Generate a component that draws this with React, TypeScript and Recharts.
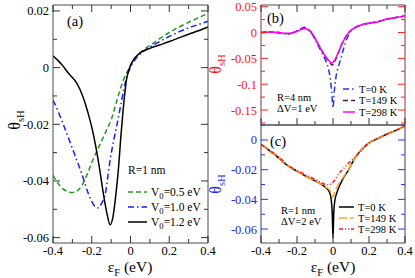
import React from "react";
import { LineChart, Line, XAxis, YAxis } from "recharts";

const W = 415;
const H = 278;
const FONT = "Liberation Serif, DejaVu Serif, serif";

// ---- panel (a): R = 1 nm, three barrier heights V0
const aX05 = [-0.4, -0.35, -0.3, -0.27, -0.25, -0.22, -0.2, -0.15, -0.12, -0.1, -0.07, -0.04, -0.02, 0, 0.02, 0.05, 0.1, 0.15, 0.2, 0.25, 0.3, 0.35, 0.4];
const aY05 = [-0.038, -0.0427, -0.0441, -0.0432, -0.0415, -0.037, -0.0335, -0.026, -0.0215, -0.0185, -0.0115, -0.005, -0.0018, 0.0005, 0.0028, 0.0052, 0.0078, 0.0102, 0.0124, 0.0143, 0.016, 0.0176, 0.0191];

const aX10 = [-0.4, -0.37, -0.35, -0.3, -0.25, -0.22, -0.2, -0.18, -0.165, -0.15, -0.13, -0.106, -0.08, -0.065, -0.046, -0.024, -0.01, 0, 0.02, 0.05, 0.1, 0.15, 0.2, 0.25, 0.3, 0.35, 0.4];
const aY10 = [-0.0115, -0.016, -0.0195, -0.0285, -0.0378, -0.044, -0.0472, -0.0492, -0.0495, -0.048, -0.0445, -0.033, -0.0234, -0.0185, -0.0117, -0.0046, -0.0015, 0.0002, 0.0025, 0.0048, 0.0072, 0.0092, 0.011, 0.0126, 0.014, 0.0152, 0.0164];

const aX12 = [-0.4, -0.37, -0.35, -0.32, -0.3, -0.28, -0.26, -0.24, -0.22, -0.2, -0.18, -0.16, -0.14, -0.12, -0.105, -0.09, -0.075, -0.062, -0.05, -0.04, -0.03, -0.02, -0.01, 0, 0.02, 0.05, 0.1, 0.15, 0.2, 0.25, 0.3, 0.35, 0.4];
const aY12 = [0.0042, 0.0022, 0.0007, -0.002, -0.0035, -0.0052, -0.0078, -0.0113, -0.0158, -0.021, -0.0275, -0.0355, -0.0445, -0.052, -0.0555, -0.0525, -0.0445, -0.0355, -0.0245, -0.0165, -0.0095, -0.004, -0.0012, 0.0008, 0.0032, 0.0052, 0.0068, 0.008, 0.0092, 0.0105, 0.0118, 0.013, 0.0144];

// ---- panel (b): R = 4 nm, dV = 1 eV, temperatures
const bX0 = [-0.4, -0.35, -0.3, -0.25, -0.22, -0.19, -0.16, -0.14, -0.12, -0.1, -0.08, -0.06, -0.04, -0.025, -0.015, -0.007, 0, 0.007, 0.015, 0.025, 0.04, 0.06, 0.08, 0.1, 0.12, 0.16, 0.2, 0.25, 0.3, 0.35, 0.4];
const bY0 = [0.0, 0.001, -0.001, -0.003, 0.0, 0.005, 0.01, 0.006, -0.001, -0.013, -0.027, -0.04, -0.055, -0.07, -0.09, -0.115, -0.146, -0.115, -0.09, -0.072, -0.055, -0.03, -0.01, 0.003, 0.009, 0.015, 0.018, 0.021, 0.026, 0.029, 0.032];

const bX149 = [-0.4, -0.35, -0.3, -0.25, -0.22, -0.19, -0.16, -0.14, -0.12, -0.1, -0.08, -0.06, -0.04, -0.02, -0.005, 0.01, 0.03, 0.05, 0.07, 0.09, 0.12, 0.16, 0.2, 0.25, 0.3, 0.35, 0.4];
const bY149 = [0.0, 0.001, 0.0, -0.002, 0.0, 0.004, 0.008, 0.006, 0.0, -0.011, -0.024, -0.036, -0.048, -0.057, -0.063, -0.056, -0.039, -0.022, -0.009, 0.001, 0.009, 0.015, 0.018, 0.021, 0.026, 0.029, 0.032];

const bX298 = [-0.4, -0.35, -0.3, -0.25, -0.22, -0.19, -0.16, -0.14, -0.12, -0.1, -0.08, -0.06, -0.04, -0.02, -0.005, 0.01, 0.03, 0.05, 0.07, 0.09, 0.12, 0.16, 0.2, 0.25, 0.3, 0.35, 0.4];
const bY298 = [0.0, 0.001, 0.0, -0.002, 0.0, 0.004, 0.008, 0.006, 0.0, -0.011, -0.024, -0.036, -0.047, -0.055, -0.059, -0.053, -0.038, -0.022, -0.009, 0.001, 0.009, 0.015, 0.018, 0.021, 0.026, 0.029, 0.032];

// ---- panel (c): R = 1 nm, dV = 2 eV, temperatures
const cX0 = [-0.4, -0.37, -0.34, -0.32, -0.3, -0.25, -0.2, -0.15, -0.1, -0.07, -0.04, -0.02, -0.01, -0.004, 0, 0.004, 0.01, 0.02, 0.04, 0.06, 0.08, 0.1, 0.12, 0.15, 0.18, 0.2, 0.25, 0.3, 0.35, 0.4];
const cY0 = [-0.003, -0.0055, -0.0085, -0.0102, -0.0125, -0.0175, -0.021, -0.0245, -0.0275, -0.0295, -0.032, -0.035, -0.04, -0.05, -0.066, -0.05, -0.041, -0.036, -0.03, -0.025, -0.0215, -0.017, -0.0125, -0.0075, -0.004, -0.002, 0.001, 0.004, 0.0065, 0.0095];

const cX149 = [-0.4, -0.37, -0.34, -0.32, -0.3, -0.25, -0.2, -0.15, -0.1, -0.07, -0.04, -0.02, -0.01, 0, 0.01, 0.02, 0.04, 0.06, 0.08, 0.1, 0.12, 0.15, 0.18, 0.2, 0.25, 0.3, 0.35, 0.4];
const cY149 = [-0.003, -0.0055, -0.0085, -0.0102, -0.0125, -0.0175, -0.021, -0.0245, -0.0275, -0.0295, -0.0318, -0.0335, -0.0355, -0.0385, -0.035, -0.032, -0.028, -0.0245, -0.021, -0.0168, -0.0125, -0.0075, -0.004, -0.002, 0.001, 0.004, 0.0065, 0.0095];

const cX298 = [-0.4, -0.35, -0.3, -0.25, -0.2, -0.15, -0.1, -0.06, -0.03, -0.01, 0.01, 0.03, 0.057, 0.08, 0.1, 0.13, 0.16, 0.2, 0.25, 0.3, 0.35, 0.4];
const cY298 = [-0.003, -0.007, -0.0115, -0.017, -0.0205, -0.0235, -0.0265, -0.029, -0.0302, -0.0295, -0.027, -0.023, -0.0195, -0.0165, -0.014, -0.0105, -0.007, -0.002, 0.0012, 0.004, 0.0066, 0.0095];

// ---- ticks
const xTicks = [-0.4, -0.3, -0.2, -0.1, 0, 0.1, 0.2, 0.3, 0.4];
const xLabels = [-0.4, -0.2, 0, 0.2, 0.4];
const aYTicks = [-0.06, -0.05, -0.04, -0.03, -0.02, -0.01, 0, 0.01, 0.02];
const aYLabels = [-0.06, -0.04, -0.02, 0, 0.02];
const bYTicks = [-0.175, -0.15, -0.125, -0.1, -0.075, -0.05, -0.025, 0, 0.025, 0.05];
const bYLabels = [-0.15, -0.1, -0.05, 0, 0.05];
const cYTicks = [-0.06, -0.05, -0.04, -0.03, -0.02, -0.01, 0, 0.01];
const cYLabels = [-0.06, -0.04, -0.02, 0];

type Series = {
  label: string;
  sub?: string;
  rest?: string;
  xs: number[];
  ys: number[];
  color: string;
  dash?: string;
  width?: number;
};

const seriesA: Series[] = [
  { label: "V", sub: "0", rest: "=0.5 eV", xs: aX05, ys: aY05, color: "#1f9a1f", dash: "5 3" },
  { label: "V", sub: "0", rest: "=1.0 eV", xs: aX10, ys: aY10, color: "#1a1aff", dash: "6 3 1.5 3" },
  { label: "V", sub: "0", rest: "=1.2 eV", xs: aX12, ys: aY12, color: "#000000" },
];

const seriesB: Series[] = [
  { label: "T=0 K", xs: bX0, ys: bY0, color: "#2233ee", dash: "6 3 1.5 3" },
  { label: "T=149 K", xs: bX149, ys: bY149, color: "#5c1030", dash: "5 3" },
  { label: "T=298 K", xs: bX298, ys: bY298, color: "#ff00ff" },
];

const seriesC: Series[] = [
  { label: "T=0 K", xs: cX0, ys: cY0, color: "#000000" },
  { label: "T=149 K", xs: cX149, ys: cY149, color: "#ffaa22", dash: "8 3" },
  { label: "T=298 K", xs: cX298, ys: cY298, color: "#ff1a1a", dash: "4 2 1 2 1 2" },
];

const zip = (xs: number[], ys: number[]) => xs.map((x, i) => ({ x, y: ys[i] }));
const isIn = (v: number, arr: number[]) => arr.some((a) => Math.abs(a - v) < 1e-9);

type PanelProps = {
  left: number;
  right: number;
  top: number;
  bottom: number;
  yDomain: [number, number];
  yTicks: number[];
  yLabels: number[];
  showXLabels: boolean;
  topTicks: boolean;
  yColor: string;
  yLabelColor: string;
  frameV: string;
  series: Series[];
};

function Panel(p: PanelProps) {
  const major = 7;
  const minor = 4;
  const frameH = "#4d4d4d";

  const bottomTick = (t: any) => {
    const v = t.payload.value;
    const len = isIn(v, xLabels) ? major : minor;
    return (
      <g>
        <line x1={t.x} x2={t.x} y1={p.bottom} y2={p.bottom - len} stroke="#333" />
        {p.showXLabels && isIn(v, xLabels) ? (
          <text x={t.x} y={p.bottom + 11.5} textAnchor="middle" fontSize={12.5} style={{ fontFamily: FONT }} fill="#000">
            {String(v)}
          </text>
        ) : null}
      </g>
    );
  };
  const topTick = (t: any) => {
    if (!p.topTicks) return <g />;
    const len = isIn(t.payload.value, xLabels) ? major : minor;
    return <line x1={t.x} x2={t.x} y1={p.top} y2={p.top + len} stroke="#333" />;
  };
  const leftTick = (t: any) => {
    const v = t.payload.value;
    const len = isIn(v, p.yLabels) ? major : minor;
    return (
      <g>
        <line x1={p.left} x2={p.left + len} y1={t.y} y2={t.y} stroke={p.yColor} />
        {isIn(v, p.yLabels) ? (
          <text x={p.left - 4} y={t.y + 4.5} textAnchor="end" fontSize={12.5} style={{ fontFamily: FONT }} fill={p.yLabelColor}>
            {String(v)}
          </text>
        ) : null}
      </g>
    );
  };
  const rightTick = (t: any) => {
    const len = isIn(t.payload.value, p.yLabels) ? major : minor;
    return <line x1={p.right} x2={p.right - len} y1={t.y} y2={t.y} stroke={p.yColor} />;
  };

  // axes get a 1px band (a 0-size axis is not drawn), margins compensate
  return (
    <LineChart
      width={W}
      height={H}
      margin={{ left: p.left - 1, right: W - p.right - 1, top: p.top - 1, bottom: H - p.bottom - 1 }}
      style={{ position: "absolute", left: 0, top: 0 }}
    >
      <XAxis
        xAxisId="b"
        type="number"
        dataKey="x"
        domain={[-0.4, 0.4]}
        allowDataOverflow
        ticks={xTicks}
        interval={0}
        height={1}
        tickSize={0}
        tickMargin={0}
        tickLine={false}
        axisLine={{ stroke: frameH }}
        tick={bottomTick}
      />
      <XAxis
        xAxisId="t"
        orientation="top"
        type="number"
        dataKey="x"
        domain={[-0.4, 0.4]}
        allowDataOverflow
        ticks={xTicks}
        interval={0}
        height={1}
        tickSize={0}
        tickMargin={0}
        tickLine={false}
        axisLine={{ stroke: frameH }}
        tick={topTick}
      />
      <YAxis
        yAxisId="l"
        type="number"
        domain={p.yDomain}
        allowDataOverflow
        ticks={p.yTicks}
        interval={0}
        width={1}
        tickSize={0}
        tickMargin={0}
        tickLine={false}
        axisLine={{ stroke: p.frameV }}
        tick={leftTick}
      />
      <YAxis
        yAxisId="r"
        orientation="right"
        type="number"
        domain={p.yDomain}
        allowDataOverflow
        ticks={p.yTicks}
        interval={0}
        width={1}
        tickSize={0}
        tickMargin={0}
        tickLine={false}
        axisLine={{ stroke: p.frameV }}
        tick={rightTick}
      />
      {p.series.map((s) => (
        <Line
          key={s.label + (s.rest || "")}
          xAxisId="b"
          yAxisId="l"
          data={zip(s.xs, s.ys)}
          dataKey="y"
          type="monotone"
          stroke={s.color}
          strokeWidth={s.width || 1.5}
          strokeDasharray={s.dash}
          dot={false}
          activeDot={false}
          isAnimationActive={false}
        />
      ))}
    </LineChart>
  );
}

function LegendBlock({ series, x, y, step, lineLen, size }: { series: Series[]; x: number; y: number; step: number; lineLen: number; size: number }) {
  return (
    <g>
      {series.map((s, i) => (
        <g key={i}>
          <line
            x1={x}
            x2={x + lineLen}
            y1={y + i * step}
            y2={y + i * step}
            stroke={s.color}
            strokeWidth={1.5}
            strokeDasharray={s.dash}
          />
          <text x={x + lineLen + 4} y={y + i * step + 3.5} fontSize={size}>
            {s.label}
            {s.sub ? (
              <tspan dy={3} fontSize={size * 0.75}>
                {s.sub}
              </tspan>
            ) : null}
            {s.rest ? <tspan dy={s.sub ? -3 : 0}>{s.rest}</tspan> : null}
          </text>
        </g>
      ))}
    </g>
  );
}

function Theta({ cx, cy, color }: { cx: number; cy: number; color: string }) {
  return (
    <text x={cx} y={cy} transform={`rotate(-90 ${cx} ${cy})`} textAnchor="middle" fontSize={16} fill={color}>
      θ
      <tspan dy={4} fontSize={10.5}>
        sH
      </tspan>
    </text>
  );
}

function EpsF({ cx, y }: { cx: number; y: number }) {
  return (
    <text x={cx} y={y} textAnchor="middle" fontSize={15.5} fill="#000">
      ε
      <tspan dy={4} fontSize={10.5}>
        F
      </tspan>
      <tspan dy={-4}> (eV)</tspan>
    </text>
  );
}

function Annotations() {
  return (
    <svg width={W} height={H} style={{ position: "absolute", left: 0, top: 0, fontFamily: FONT }}>
      <text x={67} y={26} fontSize={14.5}>(a)</text>
      <text x={267} y={23} fontSize={14.5}>(b)</text>
      <text x={270} y={146} fontSize={14.5}>(c)</text>

      <Theta cx={20} cy={120} color="#000" />
      <Theta cx={221} cy={64} color="#ff1111" />
      <Theta cx={221} cy={184} color="#2222ff" />

      <EpsF cx={130} y={272} />
      <EpsF cx={333} y={272} />

      <text x={128} y={174} fontSize={11.5}>R=1 nm</text>
      <LegendBlock series={seriesA} x={128} y={192} step={15} lineLen={19} size={11.5} />

      <text x={277} y={101} fontSize={10.5}>R=4 nm</text>
      <text x={277} y={112} fontSize={10.5}>ΔV=1 eV</text>
      <LegendBlock series={seriesB} x={343} y={89} step={11.5} lineLen={12} size={10.5} />

      <text x={281} y={214} fontSize={10.5}>R=1 nm</text>
      <text x={281} y={225} fontSize={10.5}>ΔV=2 eV</text>
      <LegendBlock series={seriesC} x={339} y={207} step={11} lineLen={15} size={10.5} />
    </svg>
  );
}

export default function App() {
  return (
    <div style={{ position: "absolute", left: 0, top: 0, width: W, height: H, background: "#fff", overflow: "hidden", fontFamily: FONT }}>
      <Panel
        left={53}
        right={208}
        top={5}
        bottom={243}
        yDomain={[-0.0619, 0.0221]}
        yTicks={aYTicks}
        yLabels={aYLabels}
        showXLabels
        topTicks
        yColor="#333"
        yLabelColor="#000"
        frameV="#4d4d4d"
        series={seriesA}
      />
      <Panel
        left={261}
        right={405}
        top={5}
        bottom={125}
        yDomain={[-0.179, 0.0533]}
        yTicks={bYTicks}
        yLabels={bYLabels}
        showXLabels={false}
        topTicks
        yColor="#ff2020"
        yLabelColor="#ff1111"
        frameV="#7a3a3a"
        series={seriesB}
      />
      <Panel
        left={261}
        right={405}
        top={125}
        bottom={243}
        yDomain={[-0.0694, 0.0101]}
        yTicks={cYTicks}
        yLabels={cYLabels}
        showXLabels
        topTicks={false}
        yColor="#3030ff"
        yLabelColor="#2222ff"
        frameV="#3a3a6a"
        series={seriesC}
      />
      <Annotations />
    </div>
  );
}
